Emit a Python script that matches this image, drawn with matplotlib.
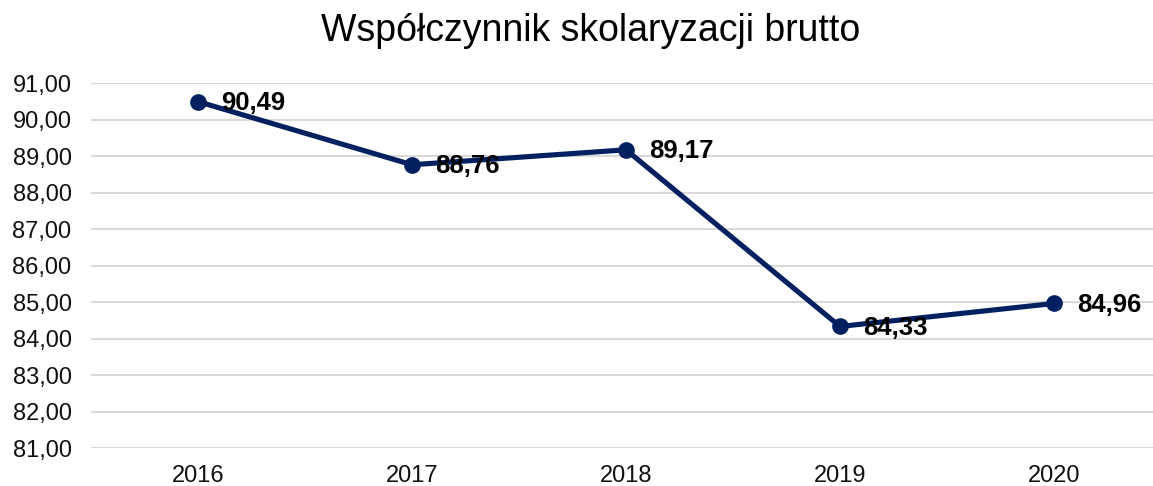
import numpy as np
import matplotlib
matplotlib.use('Agg')
import matplotlib.pyplot as plt

# data
years = ['2016', '2017', '2018', '2019', '2020']
values = [90.49, 88.76, 89.17, 84.33, 84.96]
yticks = np.arange(81, 92, 1)

plt.rcParams['font.family'] = ['Liberation Sans', 'DejaVu Sans']
navy = '#002060'

fig = plt.figure(figsize=(11.53, 4.86), dpi=100)
ax = fig.add_axes([91/1153, 38/486, 1070/1153, 365/486])

x = np.arange(len(years))
ax.plot(x, values, color=navy, lw=3.7, marker='o', ms=11, zorder=3,
        solid_capstyle='round')

# data labels to the right of the points
for xi, v in zip(x, values):
    ax.annotate(f'{v:.2f}'.replace('.', ','), (xi, v), xytext=(17, -1),
                textcoords='offset points', va='center', ha='left',
                fontsize=18.5, fontweight='bold', color='black', zorder=4)

ax.set_xlim(-0.5, 4.5)
ax.set_ylim(81, 91)
ax.set_xticks(x)
ax.set_xticklabels(years, fontsize=17)
ax.set_yticks(yticks)
ax.set_yticklabels([f'{t:.2f}'.replace('.', ',') for t in yticks], fontsize=17)
ax.tick_params(axis='both', length=0, colors='#111111')
ax.tick_params(axis='y', pad=14)
ax.tick_params(axis='x', pad=12)
ax.grid(axis='y', color='#d9d9d9', lw=1.5)
ax.set_axisbelow(True)
for s in ax.spines.values():
    s.set_visible(False)

fig.text(591/1153, 1 - 31/486, 'Współczynnik skolaryzacji brutto',
         ha='center', va='center', fontsize=27, color='black')

fig.savefig('out.png', dpi=100)
